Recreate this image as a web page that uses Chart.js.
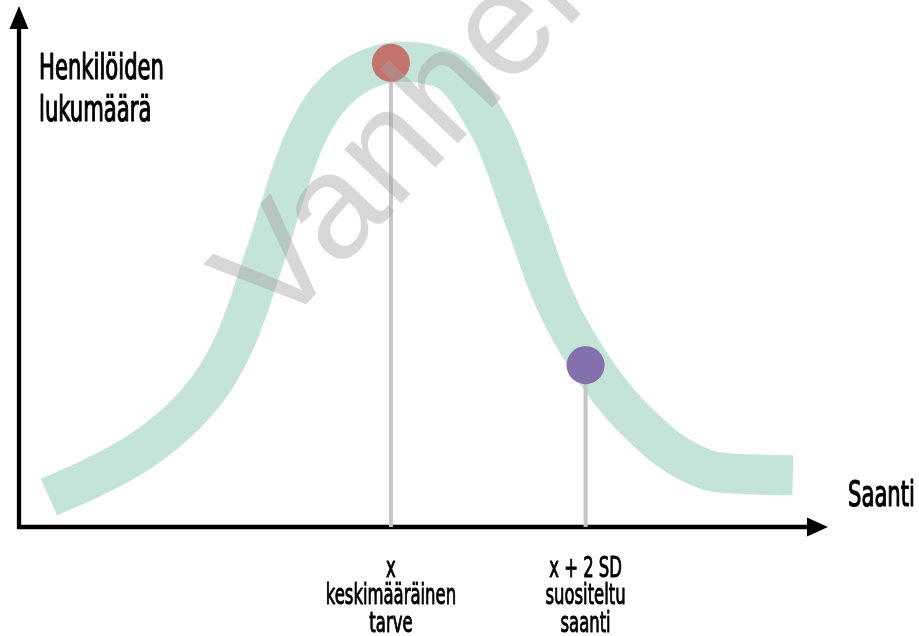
<!DOCTYPE html>
<html>
<head>
<meta charset="utf-8">
<script src="https://cdn.jsdelivr.net/npm/chart.js@4/dist/chart.umd.min.js"></script>
<style>
  html, body { margin: 0; padding: 0; background: #fff; }
  #wrap { width: 919px; height: 636px; position: relative; }
</style>
</head>
<body>
<div id="wrap"><canvas id="chart"></canvas></div>
<script>
// bell curve of requirement distribution (arbitrary units, x 0-100, y 0-100)
const curveX = [3.8, 9.2, 14.3, 18.7, 22.5, 25.3, 27.5, 29.1, 30.5, 31.9, 33.2, 34.6, 36.2, 38.5,
  41.5, 44.7, 48.5, 51.6, 54.8, 56.8, 58.6, 60.4, 62.0, 63.5, 65.1, 66.6, 68.4, 70.6, 73.2, 76.3,
  79.5, 82.3, 85.2, 88.0, 92.8, 98.2];
const curveY = [6.0, 9.8, 14.1, 19.1, 24.9, 30.9, 37.6, 44.2, 51.0, 57.6, 64.3, 71.1, 77.7, 84.3,
  89.4, 92.2, 93.4, 93.0, 91.2, 87.8, 83.3, 78.1, 71.7, 64.7, 57.8, 51.0, 44.2, 37.6, 31.1, 24.7,
  19.5, 15.7, 12.9, 11.2, 10.6, 10.4];

const meanPoint = { x: 47.2, y: 93.2 };
const sdPoint = { x: 71.9, y: 32.5 };

const tickValues = [meanPoint.x, sdPoint.x];
const tickLabels = [['x', 'keskimääräinen', 'tarve'], ['x + 2 SD', 'suositeltu', 'saanti']];
const yTitle = ['Henkilöiden', 'lukumäärä'];
const xTitle = 'Saanti';
const watermark = 'Vanhentunut';

const curveData = curveX.map((x, i) => ({ x: x, y: curveY[i] }));

const FONT = '{size}px "DejaVu Sans Condensed", "DejaVu Sans", sans-serif';
const WM_FONT = '"Liberation Sans", Roboto, Arial, sans-serif';

function font(size) {
  return FONT.replace('{size}', size);
}

// narrow the label font so it looks like the condensed face of the original
let squeeze = null;
function getSqueeze(ctx) {
  if (squeeze === null) {
    ctx.save();
    ctx.font = font(36);
    squeeze = 125 / ctx.measureText(yTitle[0]).width;
    ctx.restore();
  }
  return squeeze;
}

function squeezedText(ctx, text, x, y, size, align) {
  const k = getSqueeze(ctx);
  ctx.save();
  ctx.translate(x, y);
  ctx.scale(k, 1);
  ctx.font = font(size);
  ctx.textAlign = align;
  ctx.textBaseline = 'alphabetic';
  ctx.fillStyle = '#000';
  ctx.strokeStyle = '#000';
  ctx.lineWidth = size / 30;   // a little heavier than book weight
  ctx.lineJoin = 'round';
  ctx.fillText(text, 0, 0);
  ctx.strokeText(text, 0, 0);
  ctx.restore();
}

const axesPlugin = {
  id: 'axesAndLabels',
  beforeDatasetsDraw(chart) {
    const ctx = chart.ctx;
    const ca = chart.chartArea;
    ctx.save();
    ctx.strokeStyle = '#000';
    ctx.fillStyle = '#000';
    ctx.lineWidth = 4.3;
    ctx.beginPath();
    ctx.moveTo(ca.left, ca.bottom + 2);
    ctx.lineTo(ca.left, ca.top);
    ctx.moveTo(ca.left - 2, ca.bottom);
    ctx.lineTo(ca.right, ca.bottom);
    ctx.stroke();
    // arrow heads
    ctx.beginPath();
    ctx.moveTo(ca.left, ca.top - 23);
    ctx.lineTo(ca.left + 9.5, ca.top);
    ctx.lineTo(ca.left - 9.5, ca.top);
    ctx.closePath();
    ctx.fill();
    ctx.beginPath();
    ctx.moveTo(ca.right + 21, ca.bottom);
    ctx.lineTo(ca.right, ca.bottom - 9.5);
    ctx.lineTo(ca.right, ca.bottom + 9.5);
    ctx.closePath();
    ctx.fill();
    ctx.restore();

    // axis titles
    squeezedText(ctx, yTitle[0], ca.left + 20, 79, 36, 'left');
    squeezedText(ctx, yTitle[1], ca.left + 20, 121, 36, 'left');
    squeezedText(ctx, xTitle, ca.right + 41, 506, 36, 'left');

    // tick labels under the x axis
    const xs = chart.scales.x;
    const baselines = [577, 604, 632];
    tickValues.forEach((v, i) => {
      const px = xs.getPixelForValue(v);
      tickLabels[i].forEach((line, j) => {
        squeezedText(ctx, line, px, baselines[j], 28, 'center');
      });
    });
  },
  afterDatasetsDraw(chart) {
    const ctx = chart.ctx;
    ctx.save();
    ctx.font = '144px ' + WM_FONT;
    // keep the letter spacing of the original whatever face is found
    const k = 336 / ctx.measureText('Vanh').width;
    ctx.translate(277, 335);
    ctx.rotate(-46.6 * Math.PI / 180);
    ctx.font = (144 * k).toFixed(1) + 'px ' + WM_FONT;
    ctx.fillStyle = 'rgba(160, 160, 160, 0.42)';
    ctx.textBaseline = 'alphabetic';
    ctx.fillText(watermark, 0, 0);
    ctx.restore();
  }
};

new Chart(document.getElementById('chart'), {
  type: 'scatter',
  data: {
    datasets: [
      {
        data: [meanPoint, sdPoint],
        pointRadius: 19,
        pointHoverRadius: 19,
        pointBackgroundColor: ['#c4736c', '#8470ad'],
        pointBorderWidth: 0,
        clip: false,
        order: 0
      },
      {
        data: [{ x: meanPoint.x, y: meanPoint.y }, { x: meanPoint.x, y: 0 }],
        showLine: true,
        borderColor: '#c6c6c6',
        borderWidth: 4,
        pointRadius: 0,
        order: 1
      },
      {
        data: [{ x: sdPoint.x, y: sdPoint.y }, { x: sdPoint.x, y: 0 }],
        showLine: true,
        borderColor: '#c6c6c6',
        borderWidth: 4,
        pointRadius: 0,
        order: 1
      },
      {
        data: curveData,
        showLine: true,
        borderColor: '#c5e4d8',
        borderWidth: 40,
        borderCapStyle: 'butt',
        borderJoinStyle: 'round',
        cubicInterpolationMode: 'monotone',
        pointRadius: 0,
        clip: false,
        order: 2
      }
    ]
  },
  options: {
    responsive: true,
    maintainAspectRatio: false,
    animation: false,
    layout: { padding: { left: 17, right: 112, top: 29, bottom: 109 } },
    plugins: { legend: { display: false }, tooltip: { enabled: false } },
    scales: {
      x: { type: 'linear', min: 0, max: 100, display: false },
      y: { type: 'linear', min: 0, max: 100, display: false }
    }
  },
  plugins: [axesPlugin]
});
</script>
</body>
</html>
